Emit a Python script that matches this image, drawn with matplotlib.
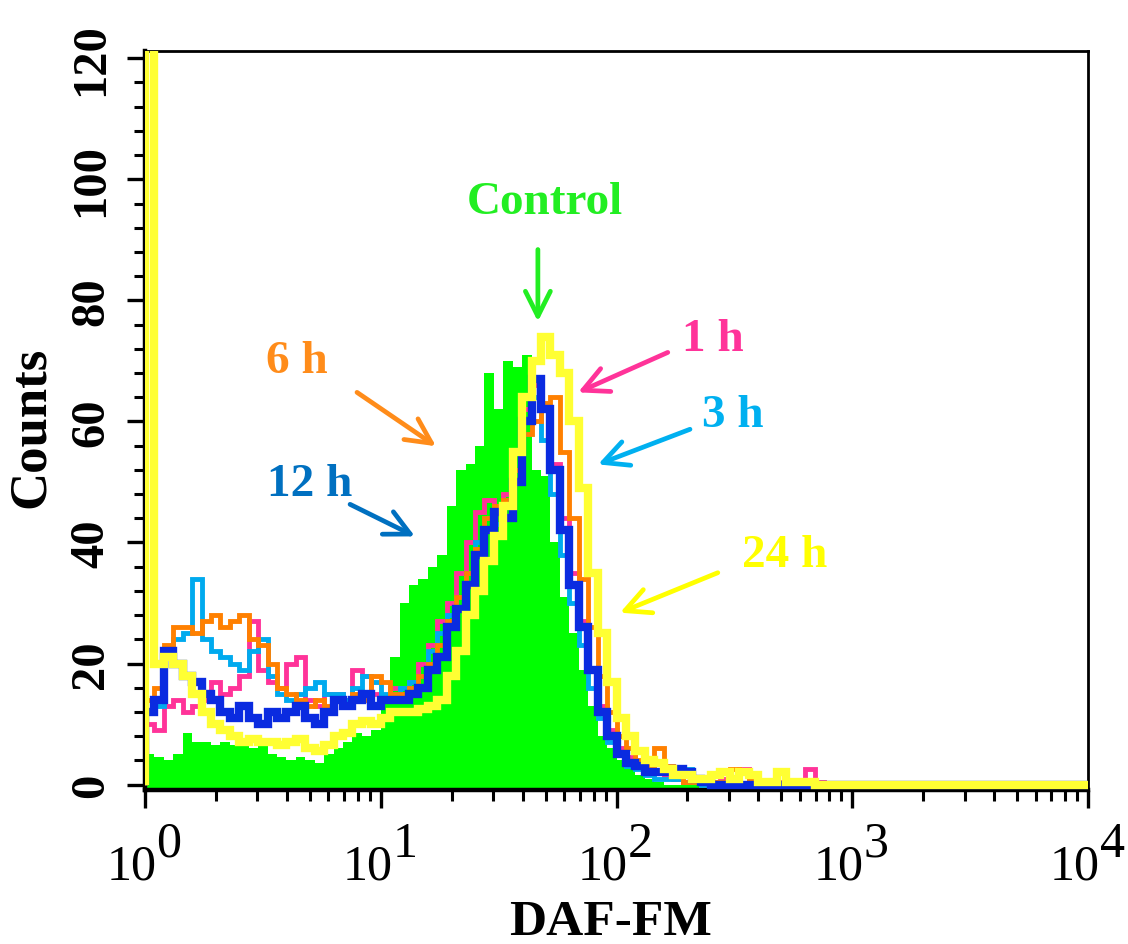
import numpy as np
import matplotlib.pyplot as plt
from matplotlib.ticker import MultipleLocator, LogLocator, NullFormatter

plt.rcParams['font.family'] = ['Liberation Serif', 'DejaVu Serif']
plt.rcParams['font.weight'] = 'bold'

# channels: 25 per decade, 10^0 .. 10^4
edges = 10 ** np.linspace(0, 4, 101)

control = [5, 4.5, 4, 5, 8.5, 7, 7, 6.5, 7, 6.5,
           7, 6, 6.5, 5, 4.5, 4, 4.5, 4, 3.5, 5,
           6, 7, 8.5, 8, 9, 14, 21, 30, 33, 34,
           36, 38, 46, 52, 53, 56, 68, 62, 70, 69,
           71, 52, 51, 40, 31, 25, 19, 13, 8, 6,
           4, 3, 1.5, 1, 0.5, 0, 0, 0, 0, 0,
           0, 0, 0, 0, 0, 0, 0, 0, 0, 0,
           0, 0, 0, 0, 0, 0, 0, 0, 0, 0,
           0, 0, 0, 0, 0, 0, 0, 0, 0, 0,
           0, 0, 0, 0, 0, 0, 0, 0, 0, 0]

h1 = [10, 9, 13, 14, 12, 13, 14, 17, 15, 16,
      18, 27, 19, 17, 16, 20, 21, 14, 13, 15,
      15, 14, 19, 18, 15, 14, 16, 16, 17, 20,
      23, 27, 30, 35, 40, 45, 47, 46, 48, 55,
      62, 66, 62, 53, 44, 35, 27, 19, 13, 9,
      6, 4.5, 3.5, 2.5, 2, 1.5, 1, 0.5, 0.5, 0,
      0.5, 1, 0.5, 2.5, 0.5, 0, 0, 0.5, 0, 0,
      2.5, 0.5, 0, 0, 0, 0, 0, 0, 0, 0,
      0, 0, 0, 0, 0, 0, 0, 0, 0, 0,
      0, 0, 0, 0, 0, 0, 0, 0, 0, 0]

h3 = [12, 13, 22, 24, 25, 34, 24, 22, 21, 20,
      19, 22, 24, 18, 15, 14, 15, 16, 17, 15,
      15, 14, 16, 18, 17, 15, 15, 16, 17, 18,
      22, 25, 28, 31, 35, 40, 44, 43, 46, 52,
      60, 64, 57, 48, 38, 30, 23, 16, 11, 7,
      5, 3, 2.5, 1.5, 1, 1, 1, 2.5, 0.5, 0,
      0, 0, 0, 0, 0, 0, 0, 0, 0, 0,
      0, 0, 0, 0, 0, 0, 0, 0, 0, 0,
      0, 0, 0, 0, 0, 0, 0, 0, 0, 0,
      0, 0, 0, 0, 0, 0, 0, 0, 0, 0]

h6 = [14, 16, 23, 26, 26, 25, 27, 28, 26, 27,
      28, 24, 23, 20, 16, 15, 14, 13, 14, 13,
      14, 13, 15, 14, 18, 17, 15, 15, 16, 18,
      20, 23, 27, 31, 35, 39, 44, 46, 47, 52,
      58, 60, 63, 64, 55, 44, 34, 26, 18, 12,
      8, 6, 4, 3, 6, 3, 1.5, 0.5, 0.5, 1,
      0.5, 0.5, 2.5, 2, 1, 0.5, 0, 0, 0, 0,
      0, 0, 0, 0, 0, 0, 0, 0, 0, 0,
      0, 0, 0, 0, 0, 0, 0, 0, 0, 0,
      0, 0, 0, 0, 0, 0, 0, 0, 0, 0]

h12 = [12, 14, 22, 20, 18, 17, 15, 14, 12, 11,
       13, 11, 10, 12, 11, 12, 13, 11, 10, 12,
       14, 13, 14, 15, 13, 14, 14, 14, 15, 16,
       19, 21, 26, 29, 33, 38, 42, 45, 44, 50,
       60, 67, 62, 52, 42, 33, 26, 19, 12, 8,
       5, 3.5, 3, 2, 2, 2, 2.5, 2, 1, 0.5,
       0, 0, 0, 0, 0, 0, 0, 0, 0, 0,
       0, 0, 0, 0, 0, 0, 0, 0, 0, 0,
       0, 0, 0, 0, 0, 0, 0, 0, 0, 0,
       0, 0, 0, 0, 0, 0, 0, 0, 0, 0]

h24 = [130, 20, 21, 20, 18, 15, 12, 10, 9, 8,
       7, 7.5, 7, 7, 6.5, 7, 7.5, 6, 5.5, 6.5,
       8, 8.5, 10, 10.5, 10, 11, 12, 12, 12, 12.5,
       13, 14, 18, 22, 28, 32, 37, 41, 46, 55,
       64, 70, 74, 71, 68, 60, 49, 35, 25, 17,
       11, 8, 5.5, 4, 3.5, 2.5, 1.5, 1.5, 1, 1,
       1.5, 2, 1, 2, 1.5, 0.5, 0.5, 2, 0.5, 0.5,
       0.5, 0, 0, 0, 0, 0, 0, 0, 0, 0,
       0, 0, 0, 0, 0, 0, 0, 0, 0, 0,
       0, 0, 0, 0, 0, 0, 0, 0, 0, 0]

decades = [1, 10, 100, 1000, 10000]
exponents = ['0', '1', '2', '3', '4']

fig = plt.figure(figsize=(11.28, 9.45), dpi=100)
ax = fig.add_axes([145/1128, 1-791/945, 943/1128, 739/945])

ax.stairs(control, edges, fill=True, color='#00FF00', baseline=-2, zorder=1)
ax.stairs(h1, edges, color='#FF3399', lw=3.5, zorder=2)
ax.stairs(h3, edges, color='#00AAEE', lw=3.5, zorder=3)
ax.stairs(h6, edges, color='#FF8000', lw=3.5, zorder=4)
ax.stairs(h12, edges, color='#0A2BE0', lw=6, zorder=5)
ax.stairs(h24, edges, color='#FFFF33', lw=6, zorder=6)

ax.set_xscale('log')
ax.set_xlim(1, 1e4)
ax.set_ylim(-0.9, 121.2)

ax.set_xticks(decades, labels=['' for d in decades])
ax.xaxis.set_minor_locator(LogLocator(base=10, subs=np.arange(2, 10)))
ax.xaxis.set_minor_formatter(NullFormatter())
ax.set_yticks(np.arange(0, 121, 20))
ax.set_yticklabels([str(v) for v in range(0, 121, 20)], rotation=90, va='center')
ax.yaxis.set_minor_locator(MultipleLocator(4))

ax.tick_params(which='major', length=13, width=2.4, labelsize=35, pad=10)
ax.tick_params(which='minor', length=8, width=2.2)
ax.tick_params(top=False, right=False)
for side in ['left', 'bottom']:
    ax.spines[side].set_linewidth(3.2)
for side in ['top', 'right']:
    ax.spines[side].set_linewidth(2)

# x tick labels: 10 with a full-size raised exponent
for d, e in zip(decades, exponents):
    ax.annotate('10', xy=(d, 0), xycoords=('data', 'axes fraction'),
                xytext=(8.3, -64), textcoords='offset points',
                ha='right', va='baseline', fontsize=36, fontweight='normal',
                annotation_clip=False)
    ax.annotate(e, xy=(d, 0), xycoords=('data', 'axes fraction'),
                xytext=(8.3, -47.5), textcoords='offset points',
                ha='left', va='baseline', fontsize=36, fontweight='normal',
                annotation_clip=False)

ax.text(-0.121, 0.492, 'Counts', transform=ax.transAxes, rotation=90,
        ha='center', va='center', fontsize=38, fontweight='bold')
ax.text(0.494, -0.178, 'DAF-FM', transform=ax.transAxes,
        ha='center', va='center', fontsize=37, fontweight='bold')

# labels and arrows
labels = [('Control', '#22EE22', (49.8, 96.2), (46.4, 88.4), (46.4, 76.5)),
          ('1 h', '#FF3399', (256.6, 73.6), (165, 71.4), (68.7, 64.8)),
          ('3 h', '#00B0F0', (312, 61), (205, 58.7), (83.5, 52.9)),
          ('6 h', '#FF8C1A', (4.41, 69.9), (7.93, 64.8), (17.15, 55.9)),
          ('12 h', '#0070C0', (5.01, 49.6), (7.41, 46.3), (13.97, 41)),
          ('24 h', '#FFFF00', (518.6, 38), (269, 35), (103.5, 28.4))]
for txt, col, pos, tail, head in labels:
    ax.text(pos[0], pos[1], txt, color=col, fontsize=34, ha='center', va='center', zorder=10)
    ax.annotate('', xy=head, xytext=tail,
                arrowprops=dict(arrowstyle='->, head_length=0.6, head_width=0.3',
                                color=col, lw=3.4, mutation_scale=30,
                                shrinkA=0, shrinkB=0), zorder=10)

fig.savefig('out.png', dpi=100)
